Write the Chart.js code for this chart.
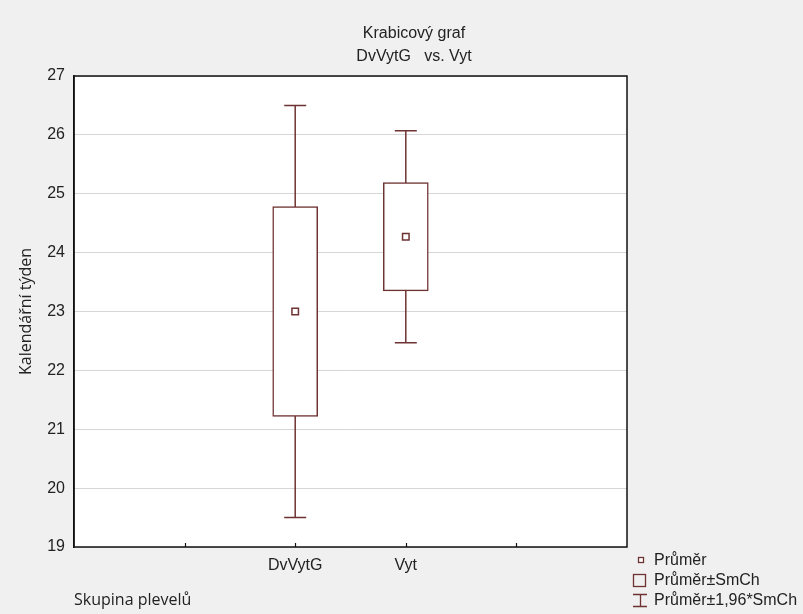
<!DOCTYPE html>
<html>
<head>
<meta charset="utf-8">
<script src="https://cdn.jsdelivr.net/npm/chart.js@4"></script>
<style>
html,body{margin:0;padding:0;background:#f0f0f0;}
#wrap{width:803px;height:614px;}
</style>
</head>
<body>
<div id="wrap"><canvas id="c" width="803" height="614"></canvas></div>
<script>
// ---- data ----
const categories = ['DvVytG', 'Vyt'];
const tickLabels = ['', '', 'DvVytG', 'Vyt', '', ''];
const means = [23.0, 24.27];
const seLow = [21.22, 23.35];
const seHigh = [24.78, 25.19];
const ciLow = [19.5, 22.47];
const ciHigh = [26.5, 26.07];
const titleLines = ['Krabicový graf', 'DvVytG   vs. Vyt'];
const yTitle = 'Kalendářní týden';
const xTitle = 'Skupina plevelů';
const legendLabels = ['Průměr', 'Průměr±SmCh', 'Průměr±1,96*SmCh'];

const MAROON = '#6e3232';

const boxData = categories.map((c, i) => ({x: c, y: [seLow[i], seHigh[i]]}));
const whiskerSets = categories.map((c, i) => ({
  type: 'line',
  data: [{x: c, y: ciLow[i]}, {x: c, y: ciHigh[i]}],
  borderColor: MAROON, borderWidth: 1.5, pointRadius: 0, order: 5
}));
const capData = [];
categories.forEach((c, i) => { capData.push({x: c, y: ciLow[i]}); capData.push({x: c, y: ciHigh[i]}); });
const meanData = categories.map((c, i) => ({x: c, y: means[i]}));

const bgPlugin = {
  id: 'bg',
  beforeDraw(chart) {
    const {ctx, chartArea: a} = chart;
    ctx.save();
    ctx.fillStyle = '#f0f0f0';
    ctx.fillRect(0, 0, chart.width, chart.height);
    ctx.fillStyle = '#ffffff';
    ctx.fillRect(a.left, a.top, a.right - a.left, a.bottom - a.top);
    ctx.restore();
  }
};

const overlay = {
  id: 'overlay',
  afterDraw(chart) {
    const {ctx, chartArea: a} = chart;
    const xs = chart.scales.x;
    ctx.save();
    // frame
    ctx.strokeStyle = '#111';
    ctx.lineWidth = 1.5;
    ctx.strokeRect(a.left, a.top, a.right - a.left, a.bottom - a.top);
    // inward x tick marks
    ctx.lineWidth = 1.2;
    for (let i = 1; i < tickLabels.length - 1; i++) {
      const px = Math.round(xs.getPixelForTick(i)) + 0.5;
      ctx.beginPath();
      ctx.moveTo(px, a.bottom);
      ctx.lineTo(px, a.bottom - 4);
      ctx.stroke();
    }
    // title
    ctx.fillStyle = '#222';
    ctx.font = '16px "Liberation Sans", Arial, sans-serif';
    ctx.textAlign = 'center';
    ctx.textBaseline = 'alphabetic';
    ctx.fillText(titleLines[0], 414, 38);
    ctx.fillText(titleLines[1], 414, 61);
    // x axis title
    ctx.font = '16px "Open Sans", sans-serif';
    ctx.textAlign = 'left';
    ctx.textBaseline = 'middle';
    ctx.fillText(xTitle, 74, 600);
    // legend
    ctx.strokeStyle = MAROON;
    ctx.lineWidth = 1.3;
    ctx.fillStyle = '#fff';
    ctx.fillRect(638.5, 557.5, 5, 5);
    ctx.strokeRect(638.5, 557.5, 5, 5);
    ctx.strokeRect(633.5, 574.5, 12, 12);
    ctx.beginPath();
    ctx.moveTo(633, 594.5); ctx.lineTo(647, 594.5);
    ctx.moveTo(633, 606.5); ctx.lineTo(647, 606.5);
    ctx.moveTo(640.5, 594.5); ctx.lineTo(640.5, 606.5);
    ctx.stroke();
    ctx.fillStyle = '#222';
    ctx.font = '16px "Liberation Sans", Arial, sans-serif';
    ctx.textBaseline = 'middle';
    ctx.fillText(legendLabels[0], 654, 561);
    ctx.fillText(legendLabels[1], 654, 581);
    ctx.fillText(legendLabels[2], 654, 601);
    ctx.restore();
  }
};

new Chart(document.getElementById('c'), {
  type: 'bar',
  data: {
    labels: tickLabels,
    datasets: [
      {
        type: 'bar', data: boxData, backgroundColor: '#ffffff', borderColor: MAROON,
        borderWidth: 1.5, barThickness: 45, grouped: false, order: 3, borderSkipped: false
      },
      ...whiskerSets,
      {
        type: 'scatter', data: capData, pointStyle: 'line', pointRadius: 11,
        borderColor: MAROON, pointBorderWidth: 1.5, borderWidth: 1.5, showLine: false, order: 2
      },
      {
        type: 'scatter', data: meanData, pointStyle: 'rect', pointRadius: 4.6,
        backgroundColor: '#ffffff', borderColor: MAROON, pointBorderWidth: 1.5, borderWidth: 1.5,
        showLine: false, order: 1
      }
    ]
  },
  options: {
    responsive: false,
    animation: false,
    events: [],
    layout: {padding: {left: 0, top: 76, right: 176, bottom: 0}},
    plugins: {legend: {display: false}, title: {display: false}, tooltip: {enabled: false}},
    scales: {
      x: {
        type: 'category',
        offset: false,
        grid: {display: false, drawTicks: false},
        border: {display: false},
        ticks: {
          autoSkip: false, maxRotation: 0, padding: 9, color: '#222',
          font: {family: '"Liberation Sans", Arial, sans-serif', size: 16}
        },
        afterFit(s) { s.height = 67; }
      },
      y: {
        min: 19, max: 27,
        grid: {color: '#d6d6d6', lineWidth: 1, drawTicks: false},
        border: {display: true, color: '#111', width: 1.5},
        ticks: {
          stepSize: 1, padding: 9, color: '#222',
          font: {family: '"Liberation Sans", Arial, sans-serif', size: 16}
        },
        title: {
          display: true, text: yTitle, color: '#222',
          font: {family: '"Open Sans", sans-serif', size: 16},
          padding: {top: 17, bottom: 0}
        },
        afterFit(s) { s.width = 74; }
      }
    }
  },
  plugins: [bgPlugin, overlay]
});
</script>
</body>
</html>
